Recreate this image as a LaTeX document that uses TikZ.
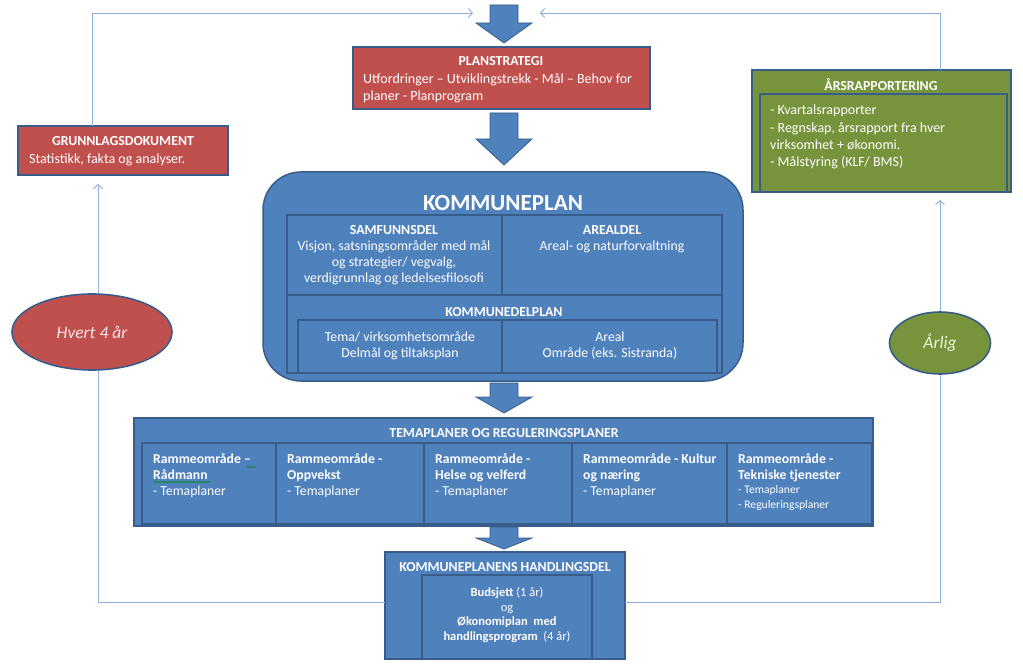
\documentclass[tikz,border=0pt]{standalone}
\usepackage{fontspec}
\setmainfont{Carlito}
\usetikzlibrary{arrows.meta,shapes.geometric,decorations.pathmorphing}
\definecolor{cred}{HTML}{C0504D}
\definecolor{cblue}{HTML}{4F81BD}
\definecolor{cgreen}{HTML}{77933C}
\definecolor{cborder}{HTML}{385D8A}
\definecolor{cline}{HTML}{8EAFD8}
\definecolor{ctxtred}{HTML}{F7E6E6}
\definecolor{ctxtgreen}{HTML}{EEF3DC}
\newcommand\blockarrow[4]{%
  \filldraw[fill=cblue,draw=cborder,line width=0.8pt,line join=miter]
    (#1-14,#2) -- (#1+14,#2) -- (#1+14,#3) -- (#1+28,#3) -- (#1,#4)
    -- (#1-28,#3) -- (#1-14,#3) -- cycle;}
\begin{document}
\begin{tikzpicture}[x=1pt,y=-1pt,
  box/.style={draw=cborder,line width=1.5pt,anchor=north west,inner sep=0pt,outer sep=0pt},
  txt/.style={text=white,inner sep=0pt,align=center},
  ttl/.style={txt,font=\bfseries\fontsize{13.8}{16}\selectfont},
  body/.style={txt,font=\fontsize{13.8}{16}\selectfont},
  cell/.style={txt,align=left,anchor=north west,font=\fontsize{13.7}{16}\selectfont},
  conn/.style={draw=cline,line width=0.9pt,-{Straight Barb[length=4pt,width=9pt]}},
  ell/.style={ellipse,draw=cborder,line width=1.6pt,inner sep=0pt,font=\itshape\fontsize{17.5}{20}\selectfont},
  squig/.style={draw=green!55!black,line width=0.5pt,decorate,decoration={snake,amplitude=0.6pt,segment length=2.5pt}}
]
\useasboundingbox (0,0) rectangle (1023,666);

% ---------- boxes ----------
\node[box,fill=cred,minimum width=297pt,minimum height=62pt] (plan) at (353,47) {};
\node[box,fill=cred,minimum width=210pt,minimum height=49pt] (grunn) at (18,126) {};
\node[box,fill=cgreen,minimum width=259pt,minimum height=122pt] (ars) at (752,70) {};
\node[box,fill=cgreen,minimum width=247pt,minimum height=98pt] (arsin) at (760,94) {};

\node[box,fill=cblue,rounded corners=38pt,minimum width=480pt,minimum height=209pt] (kp) at (263,172) {};
\node[box,fill=cblue,minimum width=215pt,minimum height=80pt] (samf) at (287,215) {};
\node[box,fill=cblue,minimum width=220pt,minimum height=80pt] (areal) at (502,215) {};
\node[box,fill=cblue,minimum width=435pt,minimum height=78pt] (kdp) at (287,295) {};
\node[box,fill=cblue,minimum width=204pt,minimum height=53pt] (tema) at (298,320) {};
\node[box,fill=cblue,minimum width=215pt,minimum height=53pt] (areal2) at (502,320) {};

\node[box,fill=cblue,minimum width=739pt,minimum height=108pt] (tp) at (134,418) {};
\node[box,fill=cblue,minimum width=134pt,minimum height=81pt] (c1) at (142,443) {};
\node[box,fill=cblue,minimum width=148pt,minimum height=81pt] (c2) at (276,443) {};
\node[box,fill=cblue,minimum width=148pt,minimum height=81pt] (c3) at (424,443) {};
\node[box,fill=cblue,minimum width=155pt,minimum height=81pt] (c4) at (572,443) {};
\node[box,fill=cblue,minimum width=145pt,minimum height=81pt] (c5) at (727,443) {};

\node[box,fill=cblue,minimum width=240pt,minimum height=107pt] (hand) at (385,552) {};
\node[box,fill=cblue,minimum width=170pt,minimum height=84pt] (handin) at (422,575) {};

% ---------- block arrows ----------
\blockarrow{504}{5}{23}{43}
\blockarrow{504}{113}{139}{165}
\blockarrow{504}{383}{397}{413}
\blockarrow{504}{527}{538}{549}

% ---------- connectors ----------
\coordinate (yl) at (0,602);
\coordinate (gl) at (98,184);
\coordinate (xg) at (92,0);
\coordinate (a1l) at (473,13);
\coordinate (ar) at (940,200);
\coordinate (xr) at (940,0);
\coordinate (a1r) at (540,13);
\draw[conn] (hand.west |- yl) -| (gl);
\draw[conn] (grunn.north -| xg) |- (a1l);
\draw[conn] (hand.east |- yl) -| (ar);
\draw[conn] (ars.north -| xr) |- (a1r);

% ---------- ellipses ----------
\node[ell,fill=cred,text=ctxtred,minimum width=160pt,minimum height=76pt] (hvert) at (92,332) {Hvert 4 år};
\node[ell,fill=cgreen,text=ctxtgreen,minimum width=101pt,minimum height=62pt] (arlig) at (940,343) {Årlig};

% ---------- texts ----------
\node[ttl] (plant) at (501,61) {PLANSTRATEGI};
\node[txt,align=left,anchor=north west,font=\fontsize{14}{17.5}\selectfont] (planb) at (363,73)
  {Utfordringer – Utviklingstrekk - Mål – Behov for\\planer - Planprogram};

\node[ttl] (grunnt) at (123,141) {GRUNNLAGSDOKUMENT};
\node[txt,anchor=west,font=\fontsize{14}{16}\selectfont] (grunnb) at (29,159.5) {Statistikk, fakta og analyser.};

\node[ttl] (arst) at (881,85) {ÅRSRAPPORTERING};
\node[txt,align=left,anchor=north west,font=\fontsize{14}{17.3}\selectfont] (arsb) at (770,105)
  {- Kvartalsrapporter\\- Regnskap, årsrapport fra hver\\virksomhet + økonomi.\\- Målstyring (KLF/ BMS)};

\node[txt,font=\bfseries\fontsize{23}{26}\selectfont] (kpt) at (503,203) {KOMMUNEPLAN};
\node[ttl] (samft) at (394,230) {SAMFUNNSDEL};
\node[body] (samfb) at (394,263) {Visjon, satsningsområder med mål\\og strategier/ vegvalg,\\verdigrunnlag og ledelsesfilosofi};
\node[ttl] (arealt) at (612,230) {AREALDEL};
\node[body] (arealb) at (612,247) {Areal- og naturforvaltning};
\node[ttl] (kdpt) at (504,312) {KOMMUNEDELPLAN};
\node[body] (temab) at (400,346) {Tema/ virksomhetsområde\\Delmål og tiltaksplan};
\node[body] (areal2b) at (610,346) {Areal\\Område (eks. Sistranda)};

\node[ttl] (tpt) at (504,433) {TEMAPLANER OG REGULERINGSPLANER};
\node[cell] (c1t) at (153,453) {\textbf{Rammeområde –}\\\textbf{Rådmann}\\- Temaplaner};
\node[cell] (c2t) at (287,453) {\textbf{Rammeområde -}\\\textbf{Oppvekst}\\- Temaplaner};
\node[cell] (c3t) at (435,453) {\textbf{Rammeområde -}\\\textbf{Helse og velferd}\\- Temaplaner};
\node[cell] (c4t) at (583,453) {\textbf{Rammeområde - Kultur}\\\textbf{og næring}\\- Temaplaner};
\node[cell] (c5t) at (738,453) {\textbf{Rammeområde -}\\\textbf{Tekniske tjenester}};
\node[cell,font=\fontsize{11.6}{15}\selectfont] (c5b) at (738,485) {- Temaplaner\\- Reguleringsplaner};
\draw[squig] (153,482) -- (210,482);
\draw[squig] (247,467) -- (256,467);

\node[ttl] (handt) at (505,567) {KOMMUNEPLANENS HANDLINGSDEL};
\node[txt,font=\fontsize{12.5}{14.5}\selectfont] (handb) at (507,615)
  {\textbf{Budsjett} (1 år)\\og\\\textbf{Økonomiplan\ \ med}\\\textbf{handlingsprogram}\ \ (4 år)};
\end{tikzpicture}
\end{document}
